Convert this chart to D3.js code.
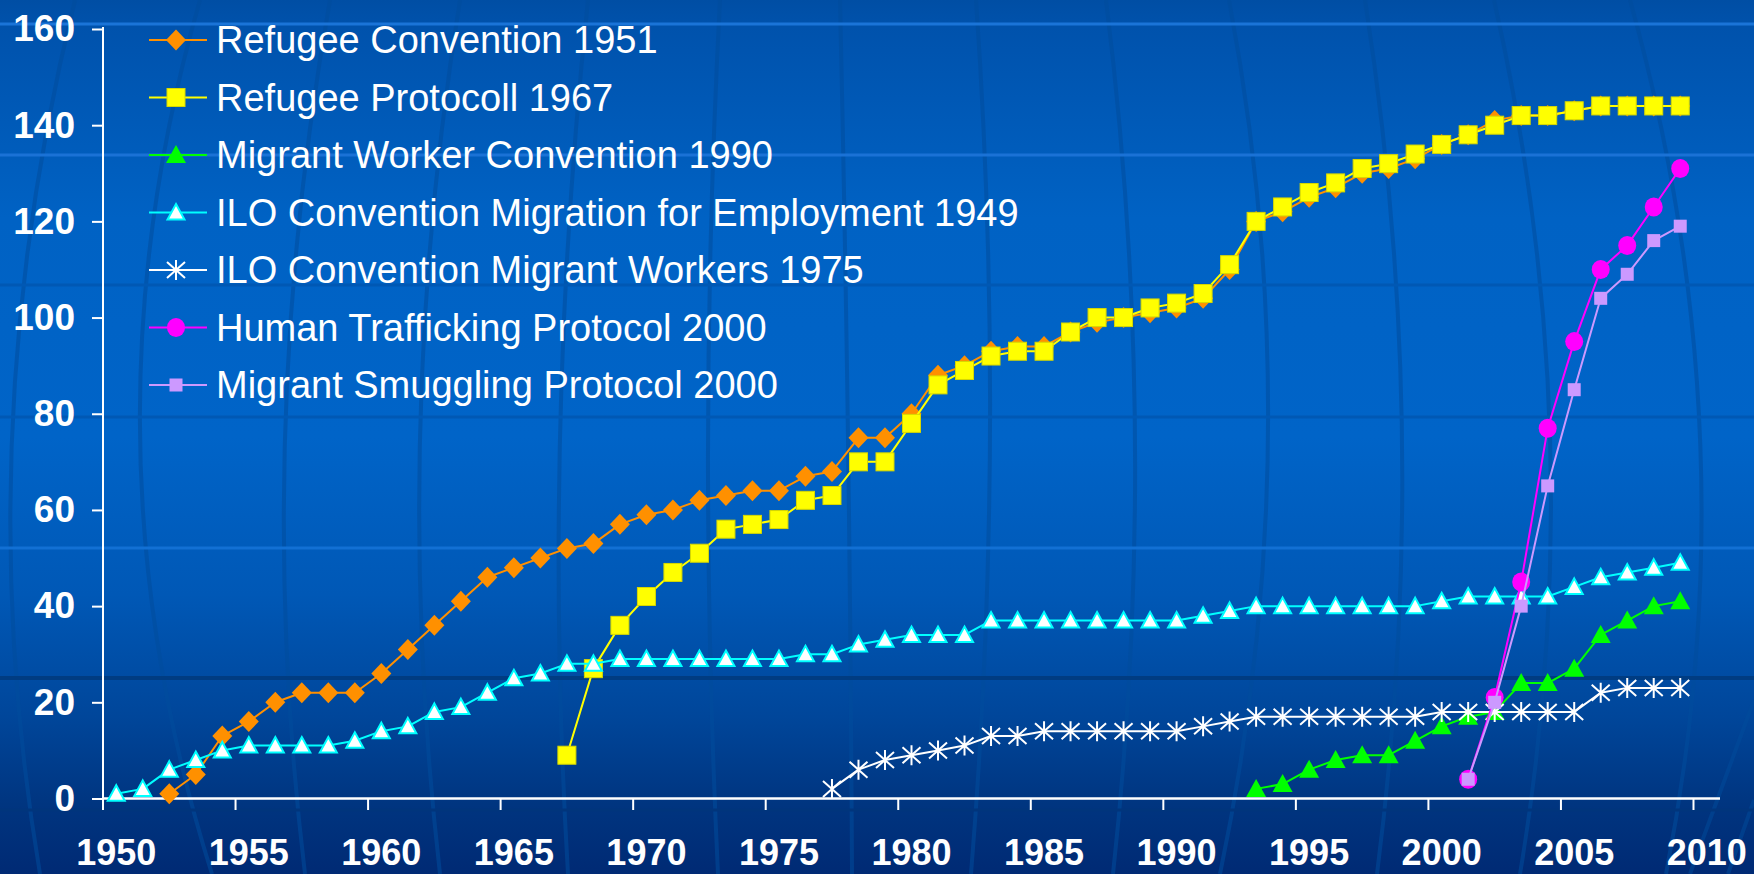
<!DOCTYPE html>
<html>
<head>
<meta charset="utf-8">
<script src="https://cdn.jsdelivr.net/npm/d3@7/dist/d3.min.js"></script>
<style>
  html, body { margin: 0; padding: 0; background: #0060c0; }
  svg { display: block; }
  text { font-family: "Liberation Sans", Arial, sans-serif; fill: #fff; }
</style>
</head>
<body>
<div id="chart"></div>
<script>
// categories (one band per year) and the labelled years
const years = [1950, 1951, 1952, 1953, 1954, 1955, 1956, 1957, 1958, 1959,
  1960, 1961, 1962, 1963, 1964, 1965, 1966, 1967, 1968, 1969,
  1970, 1971, 1972, 1973, 1974, 1975, 1976, 1977, 1978, 1979,
  1980, 1981, 1982, 1983, 1984, 1985, 1986, 1987, 1988, 1989,
  1990, 1991, 1992, 1993, 1994, 1995, 1996, 1997, 1998, 1999,
  2000, 2001, 2002, 2003, 2004, 2005, 2006, 2007, 2008, 2009, 2010];
const xTickYears = [1950, 1955, 1960, 1965, 1970, 1975, 1980, 1985, 1990, 1995, 2000, 2005, 2010];
const yTickValues = [0, 20, 40, 60, 80, 100, 120, 140, 160];

// number of ratifying states per year; each series starts at its own year
const refugeeConventionStart = 1952;
const refugeeConvention = [1, 5, 13, 16, 20, 22, 22, 22, 26, 31, 36, 41, 46, 48, 50, 52, 53, 57, 59, 60,
  62, 63, 64, 64, 67, 68, 75, 75, 80, 88, 90, 93, 94, 94, 97, 99, 100, 101, 102, 104,
  110, 120, 122, 125, 127, 130, 131, 133, 136, 138, 141, 142, 142, 143, 144, 144, 144, 144];

const refugeeProtocolStart = 1967;
const refugeeProtocol = [9, 27, 36, 42, 47, 51, 56, 57, 58, 62, 63, 70, 70, 78, 86, 89, 92, 93, 93, 97,
  100, 100, 102, 103, 105, 111, 120, 123, 126, 128, 131, 132, 134, 136, 138, 140, 142, 142, 143, 144,
  144, 144, 144];

const migrantWorkerStart = 1993;
const migrantWorker = [2, 3, 6, 8, 9, 9, 12, 15, 17, 18, 24, 24, 27, 34, 37, 40, 41];

const iloEmploymentStart = 1950;
const iloEmployment = [1, 2, 6, 8, 10, 11, 11, 11, 11, 12, 14, 15, 18, 19, 22, 25, 26, 28, 28, 29,
  29, 29, 29, 29, 29, 29, 30, 30, 32, 33, 34, 34, 34, 37, 37, 37, 37, 37, 37, 37,
  37, 38, 39, 40, 40, 40, 40, 40, 40, 40, 41, 42, 42, 42, 42, 44, 46, 47, 48, 49];

const iloMigrantStart = 1977;
const iloMigrant = [2, 6, 8, 9, 10, 11, 13, 13, 14, 14, 14, 14, 14, 14, 15, 16, 17, 17, 17, 17,
  17, 17, 17, 18, 18, 18, 18, 18, 18, 22, 23, 23, 23];

const traffickingStart = 2001;
const trafficking = [4, 21, 45, 77, 95, 110, 115, 123, 131];

const smugglingStart = 2001;
const smuggling = [4, 20, 40, 65, 85, 104, 109, 116, 119];

const seriesNames = [
  'Refugee Convention 1951',
  'Refugee Protocoll 1967',
  'Migrant Worker Convention 1990',
  'ILO Convention Migration for Employment 1949',
  'ILO Convention Migrant Workers 1975',
  'Human Trafficking Protocol 2000',
  'Migrant Smuggling Protocol 2000'
];

const toPoints = (start, values) => values.map((v, i) => ({ year: start + i, value: v }));

const series = [
  { name: seriesNames[0], color: '#ff9000', marker: 'diamond', data: toPoints(refugeeConventionStart, refugeeConvention) },
  { name: seriesNames[1], color: '#ffff00', marker: 'square', data: toPoints(refugeeProtocolStart, refugeeProtocol) },
  { name: seriesNames[2], color: '#00ff00', marker: 'triangleFill', data: toPoints(migrantWorkerStart, migrantWorker) },
  { name: seriesNames[3], color: '#00ffff', marker: 'triangleOpen', data: toPoints(iloEmploymentStart, iloEmployment) },
  { name: seriesNames[4], color: '#ffffff', marker: 'star', data: toPoints(iloMigrantStart, iloMigrant) },
  { name: seriesNames[5], color: '#ff00ff', marker: 'circle', data: toPoints(traffickingStart, trafficking) },
  { name: seriesNames[6], color: '#cc99ff', marker: 'smallSquare', data: toPoints(smugglingStart, smuggling) }
];

const W = 1754, H = 874;
const svg = d3.select('#chart').append('svg').attr('width', W).attr('height', H);

// ---- background (slide style gradient with globe lines)
const defs = svg.append('defs');
const bg = defs.append('linearGradient').attr('id', 'bg')
  .attr('x1', '0%').attr('x2', '0%').attr('y1', '0%').attr('y2', '100%');
[['0%', '#004ea4'], ['3%', '#0052ac'], ['25%', '#0062c4'], ['50%', '#0064c8'],
 ['68%', '#0058b6'], ['82%', '#00469a'], ['92%', '#003580'], ['100%', '#002a74']]
  .forEach(([o, c]) => bg.append('stop').attr('offset', o).attr('stop-color', c));
svg.append('rect').attr('width', W).attr('height', H).attr('fill', 'url(#bg)');

const meridians = [[75, 12, 40], [200, 140, 212], [330, 285, 305], [460, 420, 440], [588, 560, 568],
  [720, 708, 718], [840, 848, 852], [976, 990, 971], [1106, 1135, 1113], [1229, 1268, 1220],
  [1365, 1402, 1377], [1494, 1550, 1520], [1630, 1700, 1666]];
svg.append('g').selectAll('path').data(meridians).join('path')
  .attr('d', d => `M${d[0]},0 Q${2 * d[1] - (d[0] + d[2]) / 2},437 ${d[2]},874`)
  .attr('fill', 'none')
  .attr('stroke', '#004c9c')
  .attr('stroke-opacity', 0.55)
  .attr('stroke-width', 4);
svg.append('path').attr('d', 'M1728,874 L1754,800 M1690,874 L1754,700')
  .attr('stroke', '#004c9c').attr('stroke-opacity', 0.5).attr('stroke-width', 4);

const bands = [[24, '#1a74d8', 3], [155, '#1a72d6', 3], [285, '#0058b4', 3], [417, '#0058b4', 3],
  [548, '#1270d4', 3], [678, '#003c82', 4], [810, '#00357c', 3]];
svg.append('g').selectAll('line').data(bands).join('line')
  .attr('x1', 0).attr('x2', W)
  .attr('y1', d => d[0]).attr('y2', d => d[0])
  .attr('stroke', d => d[1])
  .attr('stroke-width', d => d[2]);

// ---- scales
const x = d3.scaleBand().domain(years).range([103, 1720]).padding(0);
const y = d3.scaleLinear().domain([0, 160]).range([798.5, 29]);
const cx = d => x(d.year) + x.bandwidth() / 2;

// ---- axes
svg.append('g')
  .attr('transform', 'translate(103,0)')
  .call(d3.axisLeft(y).tickValues(yTickValues).tickSize(11).tickPadding(17))
  .call(g => g.select('.domain').remove())
  .call(g => g.selectAll('.tick line').attr('stroke', '#fff').attr('stroke-width', 2))
  .call(g => g.selectAll('.tick text')
    .attr('fill', '#fff')
    .style('font-family', '"Liberation Sans", Arial, sans-serif')
    .style('font-weight', 'bold')
    .style('font-size', '37px'));

svg.append('g')
  .attr('transform', 'translate(0,798.5)')
  .call(d3.axisBottom(x).tickValues(xTickYears).tickSize(0).tickPadding(41))
  .call(g => g.select('.domain').remove())
  .call(g => g.selectAll('.tick text')
    .attr('fill', '#fff')
    .style('font-family', '"Liberation Sans", Arial, sans-serif')
    .style('font-weight', 'bold')
    .style('font-size', '36px'));

// tick marks sit on the category boundaries
svg.append('g').selectAll('line').data(xTickYears).join('line')
  .attr('x1', d => x(d)).attr('x2', d => x(d))
  .attr('y1', 798.5).attr('y2', 810)
  .attr('stroke', '#fff').attr('stroke-width', 2);

svg.append('line').attr('x1', 103).attr('x2', 1720).attr('y1', 798.5).attr('y2', 798.5)
  .attr('stroke', '#fff').attr('stroke-width', 2.5);
svg.append('line').attr('x1', 103).attr('x2', 103).attr('y1', 27).attr('y2', 810)
  .attr('stroke', '#fff').attr('stroke-width', 2);

// ---- markers
function drawMarker(g, type, color) {
  switch (type) {
    case 'diamond':
      g.append('path').attr('d', 'M0,-10.5 L10,0 L0,10.5 L-10,0 Z').attr('fill', color);
      break;
    case 'square':
      g.append('rect').attr('x', -9).attr('y', -9).attr('width', 18).attr('height', 18)
        .attr('fill', color).attr('stroke', '#d8d800').attr('stroke-width', 1);
      break;
    case 'smallSquare':
      g.append('rect').attr('x', -6.5).attr('y', -6.5).attr('width', 13).attr('height', 13).attr('fill', color);
      break;
    case 'triangleFill':
      g.append('path').attr('d', 'M0,-10 L10,8 L-10,8 Z').attr('fill', color);
      break;
    case 'triangleOpen':
      g.append('path').attr('d', 'M0,-8.5 L8.5,7 L-8.5,7 Z')
        .attr('fill', '#fff').attr('stroke', color).attr('stroke-width', 2);
      break;
    case 'circle':
      g.append('ellipse').attr('rx', 9).attr('ry', 9.5).attr('fill', color);
      break;
    case 'star':
      g.append('path').attr('d', 'M0,-10 L0,10 M-9,-8 L9,8 M-9,8 L9,-8')
        .attr('stroke', color).attr('stroke-width', 2).attr('fill', 'none');
      break;
  }
}

// ---- series
const line = d3.line().x(cx).y(d => y(d.value));
series.forEach(s => {
  const g = svg.append('g');
  g.append('path')
    .datum(s.data)
    .attr('fill', 'none')
    .attr('stroke', s.color)
    .attr('stroke-width', 2)
    .attr('stroke-linejoin', 'round')
    .attr('d', line);
  g.selectAll('g.pt').data(s.data).join('g')
    .attr('class', 'pt')
    .attr('transform', d => `translate(${cx(d)},${y(d.value)})`)
    .each(function () { drawMarker(d3.select(this), s.marker, s.color); });
});

// ---- legend
const legend = svg.append('g').attr('transform', 'translate(149,40)');
const rows = legend.selectAll('g').data(series).join('g')
  .attr('transform', (d, i) => `translate(0,${i * 57.5})`);
rows.append('line')
  .attr('x1', 0).attr('x2', 58).attr('y1', 0).attr('y2', 0)
  .attr('stroke', d => d.color).attr('stroke-width', 2);
rows.append('g')
  .attr('transform', 'translate(27,0)')
  .each(function (d) { drawMarker(d3.select(this), d.marker, d.color); });
rows.append('text')
  .attr('x', 67)
  .attr('dy', '0.35em')
  .style('font-size', '38px')
  .text(d => d.name);
</script>
</body>
</html>
